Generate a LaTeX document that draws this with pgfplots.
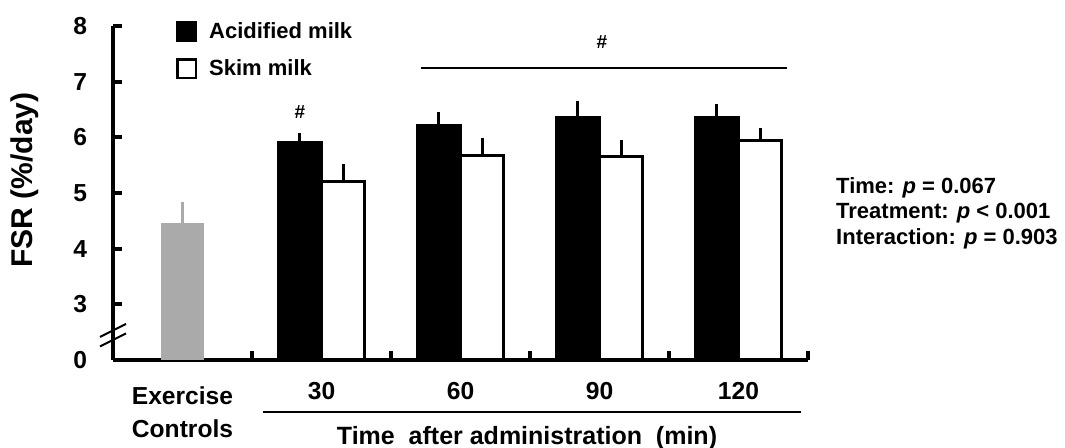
\documentclass[border=0pt]{standalone}
\usepackage{pgfplots}
\pgfplotsset{compat=1.18}
\usepackage{fontspec}
\setmainfont{Liberation Sans}
\definecolor{ctrlgray}{RGB}{170,170,170}
\pgfplotsset{
  sq legend/.style={legend image code/.code={\draw[##1, line width=1.2pt] (0pt,-4.6pt) rectangle (9.2pt,4.6pt);}},
}
\begin{document}
\begin{tikzpicture}
\begin{axis}[
  name=ax,
  scale only axis, width=347.5pt, height=167pt,
  xmin=-0.5, xmax=4.5, ymin=2, ymax=8,
  axis x line=bottom, axis y line=left,
  axis line style={-, line width=2pt, black},
  tick align=inside,
  major tick length=4.5pt,
  tick style={line width=2pt, black},
  xtick={0.5,1.5,2.5,3.5,4.5}, xticklabels={},
  extra x ticks={0,1,2,3,4},
  extra x tick labels={{\rule{0pt}{11pt}Exercise\\Controls},30,60,90,120},
  extra x tick style={major tick length=0pt, xticklabel style={align=center, anchor=north, yshift=-7.5pt}},
  ytick={2,3,4,5,6,7,8}, yticklabels={0,3,4,5,6,7,8},
  yticklabel style={xshift=-9.5pt},
  tick label style={font=\fontsize{12.3}{16.5}\selectfont\bfseries},
  /pgf/number format/assume math mode=true,
  xlabel={Time\ \ after administration\ \ (min)},
  every axis x label/.style={at={(rel axis cs:0.5957,-0.2335)}, anchor=center, font=\fontsize{12.5}{14}\selectfont\bfseries},
  ylabel={FSR (\%/day)},
  every axis y label/.style={at={(rel axis cs:-0.1266,0.539)}, rotate=90, anchor=center, font=\fontsize{15}{17}\selectfont\bfseries},
  legend style={at={(rel axis cs:0,1)}, anchor=north west, xshift=31.5pt, yshift=2.5pt,
    draw=none, fill=none, inner sep=0pt, row sep=8pt, column sep=6pt,
    nodes={inner sep=0pt}, font=\fontsize{11}{13}\selectfont\bfseries},
  legend cell align=left,
]
\addplot[forget plot, ybar, bar width=21.5pt, bar shift=0pt, fill=ctrlgray, draw=none,
  error bars/.cd, y dir=plus, y explicit, error mark=-,
  error bar style={line width=1.5pt, ctrlgray},
  error mark options={line width=1.5pt, mark size=2.5pt, ctrlgray}]
  coordinates {(0,4.46) +- (0,0.29)};
\addplot[ybar, bar width=21.5pt, bar shift=0pt, fill=black, draw=black, line width=1.5pt,
  error bars/.cd, y dir=plus, y explicit, error mark=-,
  error bar style={line width=1.5pt, black},
  error mark options={line width=1.5pt, mark size=2.5pt, black},
  /pgfplots/.cd, sq legend]
  coordinates {(0.845,5.90) +- (0,0.08) (1.845,6.22) +- (0,0.15) (2.845,6.35) +- (0,0.22) (3.845,6.36) +- (0,0.15)};
\addlegendentry{Acidified milk}
\addplot[ybar, bar width=21.5pt, bar shift=0pt, fill=white, draw=black, line width=1.5pt,
  error bars/.cd, y dir=plus, y explicit, error mark=-,
  error bar style={line width=1.5pt, black},
  error mark options={line width=1.5pt, mark size=2.5pt, black},
  /pgfplots/.cd, sq legend]
  coordinates {(1.155,5.20) +- (0,0.24) (2.155,5.68) +- (0,0.22) (3.155,5.66) +- (0,0.21) (4.155,5.95) +- (0,0.12)};
\addlegendentry{Skim milk}
\coordinate (h1) at (axis cs:0.845,6.45);
\coordinate (h2) at (axis cs:3.018,7.71);
\coordinate (l1) at (axis cs:1.716,7.245);
\coordinate (l2) at (axis cs:4.349,7.245);
\coordinate (u1) at (axis cs:0.579,1.066);
\coordinate (u2) at (axis cs:4.45,1.066);
\coordinate (pv) at (axis cs:4.70,4.64);
\coordinate (brk1) at (axis cs:-0.5,2.53);
\coordinate (brk2) at (axis cs:-0.5,2.36);
\coordinate (bbl) at (axis cs:-1.313,0.419);
\coordinate (btr) at (axis cs:6.349,8.467);
\end{axis}
\node[font=\fontsize{9.5}{10}\selectfont\bfseries] at (h1) {\#};
\node[font=\fontsize{9.5}{10}\selectfont\bfseries] at (h2) {\#};
\draw[line width=1pt] (l1) -- (l2);
\draw[line width=1pt] (u1) -- (u2);
\node[anchor=west, align=left, inner sep=0pt, font=\fontsize{11}{12.75}\selectfont\bfseries] at (pv)
  {Time: \textit{p} = 0.067\\Treatment: \textit{p} < 0.001\\Interaction: \textit{p} = 0.903};
\draw[line width=1pt] (brk1) ++(-6.5pt,-3.25pt) -- ++(13pt,6.5pt);
\draw[line width=1pt] (brk2) ++(-6.5pt,-3.25pt) -- ++(13pt,6.5pt);
\pgfresetboundingbox
\path[use as bounding box] (bbl) rectangle (btr);
\end{tikzpicture}
\end{document}
